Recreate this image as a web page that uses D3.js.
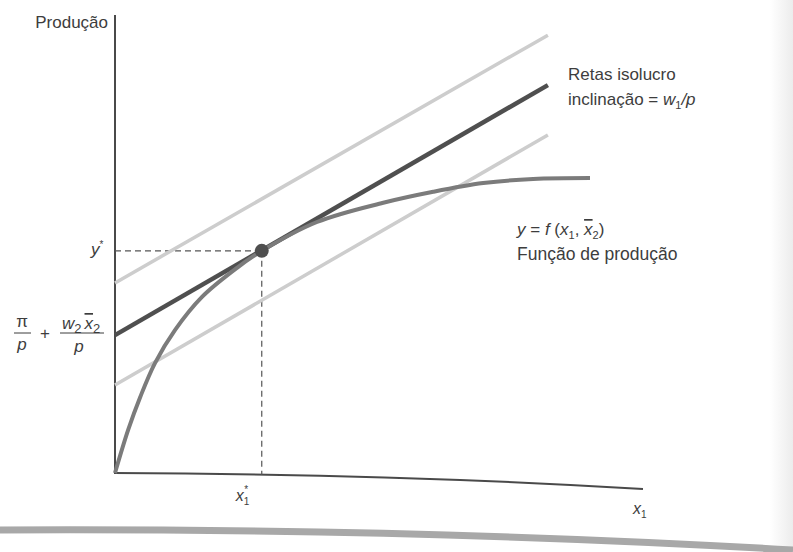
<!DOCTYPE html>
<html>
<head>
<meta charset="utf-8">
<script src="https://cdn.jsdelivr.net/npm/d3@7"></script>
<style>
    body{margin:0;background:#fff;}
    text{font-family:"Liberation Sans Narrow","Arial Narrow","Liberation Sans",sans-serif;fill:#3d3d3d;}
</style>
</head>
<body>
<div id="chart"></div>
<script>
let chart_width = 793;
let chart_height = 552;

// production function y = f(x1, x2bar)
let curve_x = [0, 0.25, 0.48, 0.76, 1.14, 1.65, 2.32, 2.79, 3.84, 5.10, 6.05, 7.00, 7.95, 9.03];
let curve_y = [0, 0.94, 1.66, 2.40, 3.12, 3.84, 4.48, 4.85, 5.48, 5.90, 6.14, 6.33, 6.42, 6.44];

// isoprofit lines: start / end points
let iso_x0 = [0, 0, 0];
let iso_y0 = [4.15, 3.01, 1.92];
let iso_x1 = [8.23, 8.23, 8.23];
let iso_y1 = [9.56, 8.47, 7.38];
let iso_kind = ['light', 'dark', 'light'];

// optimum (x1*, y*)
let opt_x = [2.79];
let opt_y = [4.85];

const xScale = d3.scaleLinear().domain([0,10]).range([115,641]);
const yScale = d3.scaleLinear().domain([0,10]).range([473,15]);

let svg = d3.select('#chart')
    .append('svg')
    .attr('width',chart_width)
    .attr('height',chart_height);

// faint page shadow on the right edge
let grad = svg.append('defs').append('linearGradient')
    .attr('id','edge').attr('x1','0').attr('x2','1');
grad.append('stop').attr('offset','0').attr('stop-color','#fff');
grad.append('stop').attr('offset','1').attr('stop-color','#ececec');
svg.append('rect')
    .attr('x',770).attr('y',0)
    .attr('width',23).attr('height',chart_height)
    .attr('fill','url(#edge)');

// axes
svg.append('line')
    .attr('x1',xScale(0)).attr('x2',xScale(0))
    .attr('y1',yScale(10)).attr('y2',yScale(0))
    .attr('stroke','#4a4a4a').attr('stroke-width',2);

svg.append('path')
    .attr('d','M'+(xScale(0)-1)+','+yScale(0)+' Q'+xScale(5.4)+','+(yScale(0)+1)+' '+(xScale(10)+2)+','+(yScale(0)+16))
    .attr('fill','none')
    .attr('stroke','#4a4a4a').attr('stroke-width',2);

// bottom rule of the figure
svg.append('path')
    .attr('d','M0,530 Q420,528 793,550')
    .attr('fill','none')
    .attr('stroke','#a8a8a8').attr('stroke-width',7);

// dashed guides
svg.append('line')
    .attr('x1',xScale(0)).attr('x2',xScale(opt_x[0]))
    .attr('y1',yScale(opt_y[0])).attr('y2',yScale(opt_y[0]))
    .attr('stroke','#555').attr('stroke-width',1.2)
    .attr('stroke-dasharray','6,4');

svg.append('line')
    .attr('x1',xScale(opt_x[0])).attr('x2',xScale(opt_x[0]))
    .attr('y1',yScale(opt_y[0])).attr('y2',yScale(0)+2)
    .attr('stroke','#555').attr('stroke-width',1.2)
    .attr('stroke-dasharray','6,4');

// isoprofit lines
let isoData = iso_x0.map((d,i)=>({'x0':d,'y0':iso_y0[i],'x1':iso_x1[i],'y1':iso_y1[i],'kind':iso_kind[i]}));

svg.append('g')
    .selectAll('line')
    .data(isoData)
    .enter()
    .append('line')
    .attr('x1',d=>xScale(d.x0))
    .attr('y1',d=>yScale(d.y0))
    .attr('x2',d=>xScale(d.x1))
    .attr('y2',d=>yScale(d.y1))
    .attr('stroke',d=>d.kind==='dark' ? '#4f4f4f' : '#cdcdcd')
    .attr('stroke-width',d=>d.kind==='dark' ? 4.5 : 3.5);

// production function
let curveData = curve_x.map((d,i)=>({'x':d,'y':curve_y[i]}));
let prod_line = d3.line()
    .x(d=>xScale(d.x))
    .y(d=>yScale(d.y))
    .curve(d3.curveCatmullRom.alpha(0.5));

svg.append('path')
    .datum(curveData)
    .attr('d',prod_line)
    .attr('fill','none')
    .attr('stroke','#7b7b7b')
    .attr('stroke-width',4);

// optimum point
svg.append('g')
    .selectAll('circle')
    .data(opt_x)
    .enter()
    .append('circle')
    .attr('cx',d=>xScale(d))
    .attr('cy',(d,i)=>yScale(opt_y[i]))
    .attr('r',7)
    .attr('fill','#4f4f4f');

// labels
svg.append('text')
    .attr('x',108).attr('y',28)
    .attr('text-anchor','end')
    .style('font-size','17px')
    .text('Produção');

let ystar = svg.append('text')
    .attr('x',91).attr('y',255)
    .style('font-size','17px')
    .style('font-style','italic');
ystar.append('tspan').text('y');
ystar.append('tspan').attr('dy',-7).style('font-size','10px').style('font-style','normal').text('*');

// pi/p + w2 x2bar / p
let frac = svg.append('g');
frac.append('text').attr('x',22).attr('y',327).attr('text-anchor','middle')
    .style('font-size','17px').text('π');
frac.append('line').attr('x1',14).attr('x2',31).attr('y1',333).attr('y2',333)
    .attr('stroke','#3d3d3d').attr('stroke-width',1);
frac.append('text').attr('x',22).attr('y',350).attr('text-anchor','middle')
    .style('font-size','17px').style('font-style','italic').text('p');
frac.append('text').attr('x',45).attr('y',339).attr('text-anchor','middle')
    .style('font-size','17px').text('+');
let num = frac.append('text').attr('x',62).attr('y',329).style('font-size','17px').style('font-style','italic');
num.append('tspan').text('w');
num.append('tspan').attr('dy',4).style('font-size','13px').style('font-style','normal').text('2');
num.append('tspan').attr('dy',-4).attr('dx',3).style('text-decoration','overline').text('x');
num.append('tspan').attr('dy',4).style('font-size','13px').style('font-style','normal').text('2');
frac.append('line').attr('x1',60).attr('x2',104).attr('y1',333).attr('y2',333)
    .attr('stroke','#3d3d3d').attr('stroke-width',1);
frac.append('text').attr('x',79).attr('y',352).attr('text-anchor','middle')
    .style('font-size','17px').style('font-style','italic').text('p');

svg.append('text')
    .attr('x',568).attr('y',80)
    .style('font-size','17px')
    .text('Retas isolucro');

let incl = svg.append('text')
    .attr('x',568).attr('y',105)
    .style('font-size','17px');
incl.append('tspan').text('inclinação = ');
incl.append('tspan').style('font-style','italic').text('w');
incl.append('tspan').attr('dy',4).style('font-size','11px').text('1');
incl.append('tspan').attr('dy',-4).style('font-style','italic').text('/p');

let fx = svg.append('text')
    .attr('x',517).attr('y',235)
    .style('font-size','17px');
fx.append('tspan').style('font-style','italic').text('y');
fx.append('tspan').text(' = ');
fx.append('tspan').style('font-style','italic').text('f');
fx.append('tspan').text(' (');
fx.append('tspan').style('font-style','italic').text('x');
fx.append('tspan').attr('dy',4).style('font-size','11px').text('1');
fx.append('tspan').attr('dy',-4).text(', ');
fx.append('tspan').style('font-style','italic').style('text-decoration','overline').text('x');
fx.append('tspan').attr('dy',4).style('font-size','11px').text('2');
fx.append('tspan').attr('dy',-4).text(')');

svg.append('text')
    .attr('x',517).attr('y',260)
    .style('font-size','17.5px')
    .text('Função de produção');

let x1star = svg.append('text')
    .attr('x',xScale(opt_x[0])-26).attr('y',501)
    .style('font-size','16px').style('font-style','italic');
x1star.append('tspan').text('x');
x1star.append('tspan').attr('dy',4).style('font-size','10px').style('font-style','normal').text('1');
x1star.append('tspan').attr('dy',-12).attr('dx',-5).style('font-size','10px').style('font-style','normal').text('*');

let x1 = svg.append('text')
    .attr('x',633).attr('y',514)
    .style('font-size','16px').style('font-style','italic');
x1.append('tspan').text('x');
x1.append('tspan').attr('dy',4).style('font-size','10px').style('font-style','normal').text('1');
</script>
</body>
</html>
